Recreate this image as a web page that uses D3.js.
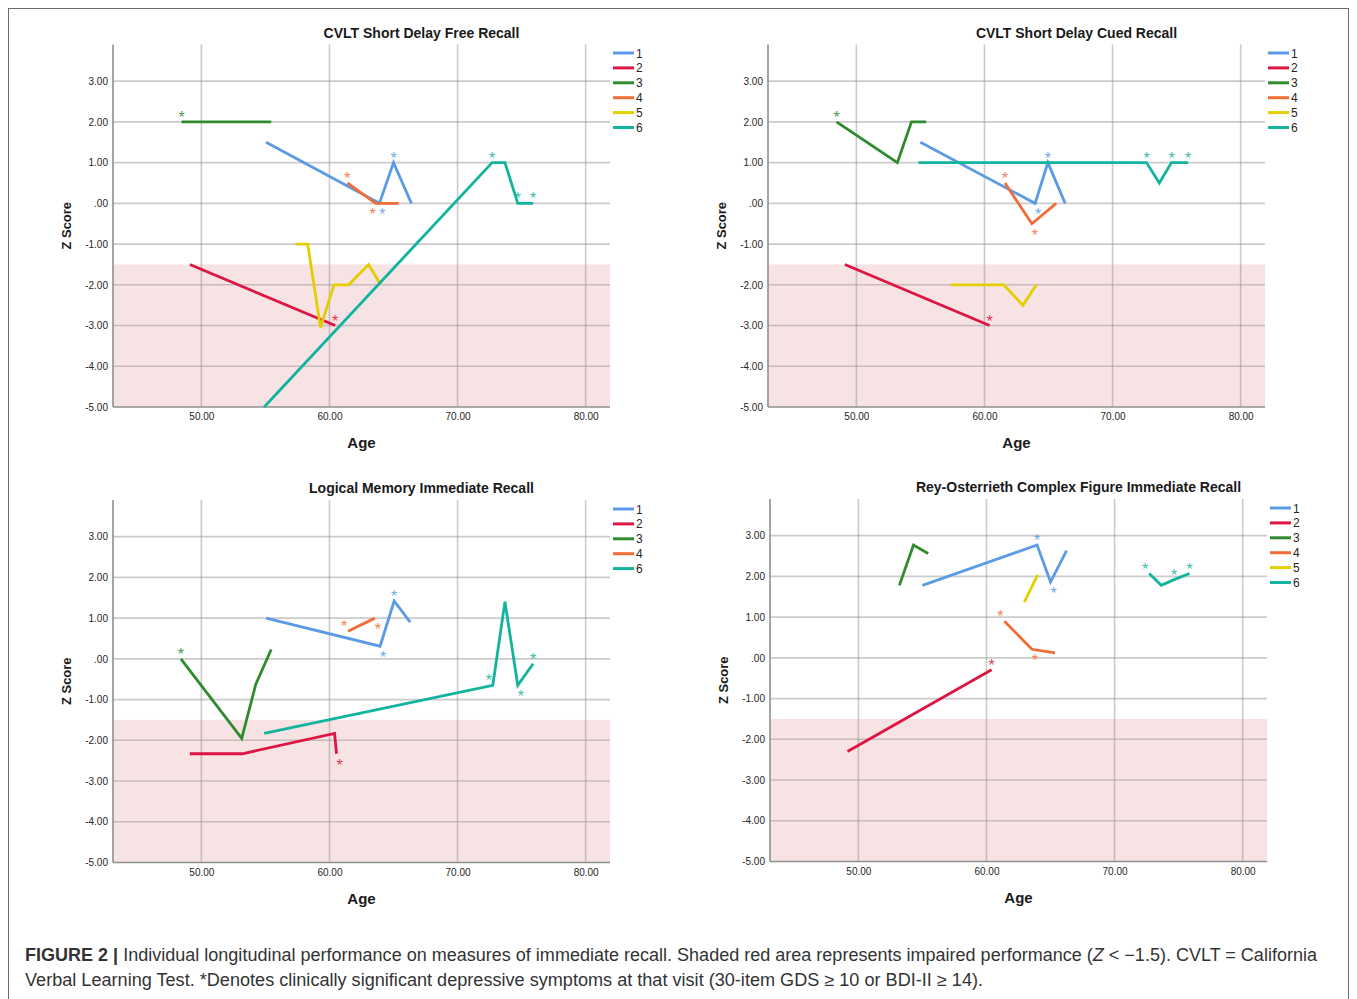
<!DOCTYPE html>
<html>
<head>
<meta charset="utf-8">
<script src="https://cdn.jsdelivr.net/npm/d3@7"></script>
<style>
  body { margin: 0; background: #fff; }
  svg { display: block; font-family: "Liberation Sans", Arial, sans-serif; }
</style>
</head>
<body>
<svg id="fig" width="1357" height="999"></svg>
<script>
// individual z-score trajectories by age, four recall measures
const xTicks = [50, 60, 70, 80];
const yTicks = [3, 2, 1, 0, -1, -2, -3, -4, -5];
const xDomain = [43.1, 81.9];
const yDomain = [-5, 3.9];
const impairedCut = -1.5;

const seriesIds = ["1", "2", "3", "4", "5", "6"];
const seriesColors = ["#5b9be6", "#dc1543", "#2f8b2f", "#f26c35", "#e3cf00", "#12b49d"];

// pts: [age, z]; dep: asterisk flag per visit
// (1 above, 2 above-left, -1 below-right, -2 below-left, 0 none)
const freeRecall = [
  { id: "1", pts: [[55.05, 1.5], [63.9, 0], [65.0, 1.0], [66.4, 0]], dep: [0, -1, 1, 0] },
  { id: "2", pts: [[49.1, -1.5], [60.45, -3.0]], dep: [0, 1] },
  { id: "3", pts: [[48.45, 2], [53.2, 2], [54.3, 2], [55.45, 2]], dep: [1, 0, 0, 0] },
  { id: "4", pts: [[61.4, 0.5], [63.6, 0], [65.4, 0]], dep: [1, -2, 0] },
  { id: "5", pts: [[57.35, -1], [58.3, -1], [59.3, -3.05], [60.35, -2], [61.5, -2], [63.05, -1.5], [64.0, -2]], dep: [0, 0, 0, 0, 0, 0, 0] },
  { id: "6", pts: [[54.9, -5], [72.7, 1], [73.7, 1], [74.7, 0], [75.9, 0]], dep: [0, 1, 0, 1, 1] }
];

const cuedRecall = [
  { id: "1", pts: [[55.0, 1.5], [63.95, 0], [64.95, 1], [66.3, 0]], dep: [0, -1, 1, 0] },
  { id: "2", pts: [[49.1, -1.5], [60.4, -3]], dep: [0, 1] },
  { id: "3", pts: [[48.45, 2], [53.2, 1], [54.3, 2], [55.45, 2]], dep: [1, 0, 0, 0] },
  { id: "4", pts: [[61.6, 0.5], [63.7, -0.5], [65.6, 0]], dep: [1, -1, 0] },
  { id: "5", pts: [[57.35, -2], [61.5, -2], [63.0, -2.5], [64.05, -2]], dep: [0, 0, 0, 0] },
  { id: "6", pts: [[54.85, 1], [72.65, 1], [73.65, 0.5], [74.6, 1], [75.9, 1]], dep: [0, 1, 0, 1, 1] }
];

const logicalMemory = [
  { id: "1", pts: [[55.05, 1.0], [63.95, 0.31], [65.05, 1.42], [66.3, 0.9]], dep: [0, -1, 1, 0] },
  { id: "2", pts: [[49.1, -2.33], [53.2, -2.33], [60.4, -1.83], [60.55, -2.33]], dep: [0, 0, 0, -1] },
  { id: "3", pts: [[48.4, 0], [53.15, -1.95], [54.25, -0.62], [55.45, 0.23]], dep: [1, 0, 0, 0] },
  { id: "4", pts: [[61.45, 0.68], [63.55, 1.0]], dep: [2, -1] },
  { id: "6", pts: [[54.9, -1.83], [72.75, -0.65], [73.7, 1.4], [74.7, -0.65], [75.9, -0.12]], dep: [0, 2, 0, -1, 1] }
];

const reyFigure = [
  { id: "1", pts: [[55.0, 1.78], [63.95, 2.77], [65.0, 1.86], [66.25, 2.63]], dep: [0, 1, -1, 0] },
  { id: "2", pts: [[49.15, -2.3], [60.4, -0.29]], dep: [0, 1] },
  { id: "3", pts: [[53.2, 1.78], [54.3, 2.77], [55.45, 2.56]], dep: [0, 0, 0] },
  { id: "4", pts: [[61.4, 0.9], [63.55, 0.21], [65.35, 0.12]], dep: [2, -1, 0] },
  { id: "5", pts: [[62.95, 1.37], [64.0, 2.04]], dep: [0, 0] },
  { id: "6", pts: [[72.7, 2.07], [73.65, 1.78], [74.65, 1.92], [75.85, 2.07]], dep: [2, 0, 1, 1] }
];

const panelTitles = [
  "CVLT Short Delay Free Recall",
  "CVLT Short Delay Cued Recall",
  "Logical Memory Immediate Recall",
  "Rey-Osterrieth Complex Figure Immediate Recall"
];
const panelData = [freeRecall, cuedRecall, logicalMemory, reyFigure];
const panelPos = [[113, 44.5], [768, 44.5], [113, 500], [770, 499]];

const plotW = 497;
const plotH = 362.5;

const svg = d3.select("#fig");

// figure frame
svg.append("rect")
  .attr("x", 8.5).attr("y", 8.5)
  .attr("width", 1340).attr("height", 1000)
  .attr("fill", "none")
  .attr("stroke", "#6b6b6b")
  .attr("stroke-width", 1);

const fmtZ = v => v === 0 ? ".00" : (v < 0 ? "-" : "") + Math.abs(v).toFixed(2);
const colorOf = id => seriesColors[seriesIds.indexOf(id)];
const starDx = { "1": 0, "2": -4, "-1": 3, "-2": -3 };

function drawPanel(i) {
  const [left, top] = panelPos[i];
  const data = panelData[i];
  const g = svg.append("g").attr("transform", `translate(${left},${top})`);
  const x = d3.scaleLinear().domain(xDomain).range([0, plotW]);
  const y = d3.scaleLinear().domain(yDomain).range([plotH, 0]);

  // impaired band
  g.append("rect")
    .attr("x", 0)
    .attr("y", y(impairedCut))
    .attr("width", plotW)
    .attr("height", y(yDomain[0]) - y(impairedCut))
    .attr("fill", "#f7e2e4");

  // grid
  g.selectAll(".hgrid")
    .data(yTicks.filter(v => v > yDomain[0]))
    .join("line")
    .attr("x1", 0).attr("x2", plotW)
    .attr("y1", d => y(d)).attr("y2", d => y(d))
    .attr("stroke", "rgba(140,140,140,0.45)")
    .attr("stroke-width", 1.6);
  g.selectAll(".vgrid")
    .data(xTicks)
    .join("line")
    .attr("x1", d => x(d)).attr("x2", d => x(d))
    .attr("y1", 0).attr("y2", plotH)
    .attr("stroke", "rgba(140,140,140,0.45)")
    .attr("stroke-width", 1.6);

  // axes
  const yAx = g.append("g")
    .call(d3.axisLeft(y).tickValues(yTicks).tickSize(0).tickPadding(5).tickFormat(fmtZ));
  const xAx = g.append("g")
    .attr("transform", `translate(0,${plotH})`)
    .call(d3.axisBottom(x).tickValues(xTicks).tickSize(0).tickPadding(6).tickFormat(d => d.toFixed(2)));
  [yAx, xAx].forEach(a => {
    a.select(".domain").attr("stroke", "#8f8f8f").attr("stroke-width", 1.6);
    a.selectAll("text")
      .attr("fill", "#262626")
      .style("font-size", "10px")
      .style("font-family", "'Liberation Sans', Arial, sans-serif");
  });
  yAx.select(".domain").attr("d", `M0,0V${plotH}`);
  xAx.select(".domain").attr("d", `M0,0H${plotW}`);

  // series lines
  const line = d3.line().x(d => x(d[0])).y(d => y(d[1]));
  g.selectAll(".traj")
    .data(data)
    .join("path")
    .attr("d", d => line(d.pts))
    .attr("fill", "none")
    .attr("stroke", d => colorOf(d.id))
    .attr("stroke-width", 2.8)
    .attr("stroke-linejoin", "miter");

  // depressive-symptom asterisks
  const stars = [];
  data.forEach(s => s.pts.forEach((p, j) => {
    if (s.dep[j]) stars.push({ id: s.id, p, pos: s.dep[j] });
  }));
  g.selectAll(".star")
    .data(stars)
    .join("text")
    .attr("x", d => x(d.p[0]) + starDx[d.pos])
    .attr("y", d => y(d.p[1]) + (d.pos < 0 ? 8 : -8) + 9)
    .attr("text-anchor", "middle")
    .attr("fill", d => colorOf(d.id))
    .attr("opacity", 0.85)
    .style("font-size", "16px")
    .text("*");

  // titles
  g.append("text")
    .attr("x", plotW / 2 + 60).attr("y", -7)
    .attr("text-anchor", "middle")
    .attr("font-weight", "bold")
    .attr("fill", "#1a1a1a")
    .style("font-size", "14px")
    .text(panelTitles[i]);
  g.append("text")
    .attr("x", plotW / 2).attr("y", plotH + 41)
    .attr("text-anchor", "middle")
    .attr("font-weight", "bold")
    .attr("fill", "#1a1a1a")
    .style("font-size", "15px")
    .text("Age");
  g.append("text")
    .attr("transform", `translate(-42,${plotH / 2}) rotate(-90)`)
    .attr("text-anchor", "middle")
    .attr("font-weight", "bold")
    .attr("fill", "#1a1a1a")
    .style("font-size", "13px")
    .text("Z Score");

  // legend
  const lg = g.append("g").attr("transform", `translate(${plotW + 3},${i < 2 ? 8.5 : 9})`);
  const items = lg.selectAll("g")
    .data(data.map(d => d.id))
    .join("g")
    .attr("transform", (d, k) => `translate(0,${k * 14.9})`);
  items.append("line")
    .attr("x1", 0).attr("x2", 21)
    .attr("stroke", d => colorOf(d))
    .attr("stroke-width", 3);
  items.append("text")
    .attr("x", 23).attr("y", 4.5)
    .attr("fill", "#262626")
    .style("font-size", "12px")
    .text(d => d);
}

panelTitles.forEach((t, i) => drawPanel(i));

// caption
const cap1 = svg.append("text")
  .attr("x", 25).attr("y", 961)
  .attr("fill", "#333")
  .attr("textLength", 1292)
  .attr("lengthAdjust", "spacingAndGlyphs")
  .style("font-size", "17.5px")
  .style("font-family", "'Liberation Sans Narrow', 'Liberation Sans', Arial, sans-serif");
cap1.append("tspan").attr("font-weight", "bold").text("FIGURE 2 | ");
cap1.append("tspan").text("Individual longitudinal performance on measures of immediate recall. Shaded red area represents impaired performance (");
cap1.append("tspan").attr("font-style", "italic").text("Z");
cap1.append("tspan").text(" < \u22121.5). CVLT = California");

svg.append("text")
  .attr("x", 25).attr("y", 986)
  .attr("fill", "#333")
  .attr("textLength", 958)
  .attr("lengthAdjust", "spacingAndGlyphs")
  .style("font-size", "17.5px")
  .style("font-family", "'Liberation Sans Narrow', 'Liberation Sans', Arial, sans-serif")
  .text("Verbal Learning Test. *Denotes clinically significant depressive symptoms at that visit (30-item GDS \u2265 10 or BDI-II \u2265 14).");
</script>
</body>
</html>
